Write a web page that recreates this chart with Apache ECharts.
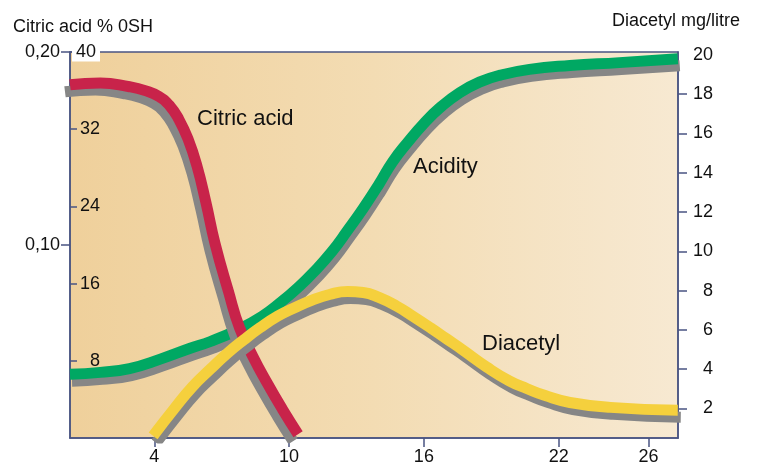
<!DOCTYPE html>
<html>
<head>
<meta charset="utf-8">
<script src="https://cdn.jsdelivr.net/npm/echarts@6/dist/echarts.min.js"></script>
<style>
  html, body { margin: 0; padding: 0; background: #fff; }
  #main { width: 763px; height: 470px; }
</style>
</head>
<body>
<div id="main"></div>
<script>
// hours on the x axis
const xTicks = [4, 10, 16, 22, 26];

// citric acid, % (outer left axis)
const citricHours = [0.25, 1.6, 2.9, 3.6, 4.2, 4.7, 5.1, 5.5, 5.9, 6.3, 6.7, 7.3, 7.8, 8.4, 9.0, 9.7, 10.4];
const citricValues = [0.183, 0.184, 0.182, 0.180, 0.177, 0.172, 0.165, 0.155, 0.141, 0.122, 0.101, 0.076, 0.057, 0.042, 0.029, 0.015, 0.002];

// acidity, °SH (inner left axis)
const acidHours = [0.25, 1.6, 2.9, 4.3, 5.6, 6.5, 7.8, 8.8, 9.6, 10.4, 11.1, 11.9, 12.6, 13.3, 14.0, 14.6, 15.3, 16.0, 16.7, 17.6, 18.5, 19.4, 20.7, 22.5, 24.7, 27.3];
const acidValues = [6.6, 6.8, 7.2, 8.2, 9.3, 10.0, 11.3, 12.6, 14.0, 15.6, 17.2, 19.3, 21.5, 23.8, 26.3, 28.6, 30.7, 32.6, 34.2, 35.8, 36.9, 37.6, 38.2, 38.6, 38.9, 39.3];

// diacetyl, mg/litre (right axis)
const diaHours = [3.95, 4.9, 5.7, 6.5, 7.25, 8.0, 8.7, 9.5, 10.2, 11.0, 11.8, 12.6, 13.3, 14.0, 14.8, 15.5, 16.3, 17.0, 17.7, 18.8, 19.8, 20.6, 21.4, 22.5, 24.3, 27.3];
const diaValues = [0.6, 2.0, 3.1, 4.0, 4.8, 5.5, 6.1, 6.7, 7.1, 7.5, 7.8, 7.95, 7.9, 7.65, 7.2, 6.7, 6.1, 5.55, 5.0, 4.1, 3.4, 3.0, 2.65, 2.3, 2.05, 1.9];

const citricTicks = [0.1, 0.2];
const acidTicks = [8, 16, 24, 32, 40];
const diaTicks = [2, 4, 6, 8, 10, 12, 14, 16, 18, 20];

const axisColor = "#4a5482";
const font = "Liberation Sans, Arial, Helvetica, sans-serif";

const pairs = (xs, ys) => xs.map((x, i) => [x, ys[i]]);

const chart = echarts.init(document.getElementById("main"));

function curve(name, axis, data, color, dx, z) {
  return {
    name: name,
    type: "line",
    yAxisIndex: axis,
    data: data,
    smooth: true,
    showSymbol: false,
    silent: true,
    z: z,
    lineStyle: {
      width: 11,
      color: color,
      shadowColor: "#868686",
      shadowBlur: 0,
      shadowOffsetX: dx,
      shadowOffsetY: 7,
    },
  };
}

const option = {
  animation: false,
  textStyle: { fontFamily: font },
  grid: {
    left: 70,
    right: 85,
    top: 52,
    bottom: 32,
    show: true,
    borderColor: axisColor,
    borderWidth: 1.5,
    backgroundColor: {
      type: "linear", x: 0, y: 0, x2: 1, y2: 0,
      colorStops: [
        { offset: 0, color: "#efd09b" },
        { offset: 0.5, color: "#f3dcb3" },
        { offset: 1, color: "#f7e9d2" },
      ],
    },
  },
  xAxis: {
    type: "value",
    min: 0.25,
    max: 27.31,
    splitLine: { show: false },
    axisLine: { lineStyle: { color: axisColor, width: 1.5 } },
    axisTick: { customValues: xTicks, length: 9, lineStyle: { color: axisColor, width: 1.5 } },
    axisLabel: { customValues: xTicks, margin: 10, fontSize: 18, color: "#111", fontFamily: font },
  },
  yAxis: [
    {
      // citric acid %
      type: "value",
      position: "left",
      min: 0,
      max: 0.2,
      splitLine: { show: false },
      axisLine: { show: true, lineStyle: { color: axisColor, width: 1.5 } },
      axisTick: { customValues: citricTicks, length: 9, lineStyle: { color: axisColor, width: 1.5 } },
      axisLabel: {
        customValues: citricTicks,
        margin: 10,
        fontSize: 18,
        color: "#111",
        fontFamily: font,
        formatter: (v) => v.toFixed(2).replace(".", ","),
      },
    },
    {
      // acidity °SH, drawn inside the plot
      type: "value",
      position: "left",
      offset: 0,
      min: 0,
      max: 40,
      z: 3,
      splitLine: { show: false },
      axisLine: { show: false },
      axisTick: { inside: true, customValues: acidTicks, length: 7, lineStyle: { color: axisColor, width: 1.5 } },
      axisLabel: {
        inside: true,
        align: "right",
        margin: 30,
        customValues: acidTicks,
        fontFamily: font,
        formatter: (v) => (v === 40 ? "{w|40}" : "{n|" + v + "}"),
        rich: {
          w: { fontSize: 18, color: "#111", fontFamily: font, backgroundColor: "#fff", padding: [1, 4, 0, 4] },
          n: { fontSize: 18, color: "#111", fontFamily: font },
        },
      },
    },
    {
      // diacetyl mg/litre
      type: "value",
      position: "right",
      min: 0.49,
      max: 20.15,
      splitLine: { show: false },
      axisLine: { show: true, lineStyle: { color: axisColor, width: 1.5 } },
      axisTick: { customValues: diaTicks.slice(0, -1), length: 9, lineStyle: { color: axisColor, width: 1.5 } },
      axisLabel: {
        customValues: diaTicks,
        align: "right",
        margin: 35,
        fontSize: 18,
        color: "#111",
        fontFamily: font,
      },
    },
  ],
  series: [
    curve("Acidity", 1, pairs(acidHours, acidValues), "#00a863", 2, 2),
    curve("Citric acid", 0, pairs(citricHours, citricValues), "#c8234a", -5, 3),
    curve("Diacetyl", 2, pairs(diaHours, diaValues), "#f5d03d", 3, 4),
  ],
  graphic: [
    { type: "text", x: 13, y: 27, style: { text: "Citric acid % 0SH", font: "18px " + font, fill: "#111", verticalAlign: "middle" } },
    { type: "text", x: 612, y: 21, style: { text: "Diacetyl mg/litre", font: "18px " + font, fill: "#111", verticalAlign: "middle" } },
    { type: "text", x: 197, y: 119, z: 10, style: { text: "Citric acid", font: "22px " + font, fill: "#111", verticalAlign: "middle" } },
    { type: "text", x: 413, y: 167, z: 10, style: { text: "Acidity", font: "22px " + font, fill: "#111", verticalAlign: "middle" } },
    { type: "text", x: 482, y: 344, z: 10, style: { text: "Diacetyl", font: "22px " + font, fill: "#111", verticalAlign: "middle" } },
  ],
};

chart.setOption(option);
</script>
</body>
</html>
